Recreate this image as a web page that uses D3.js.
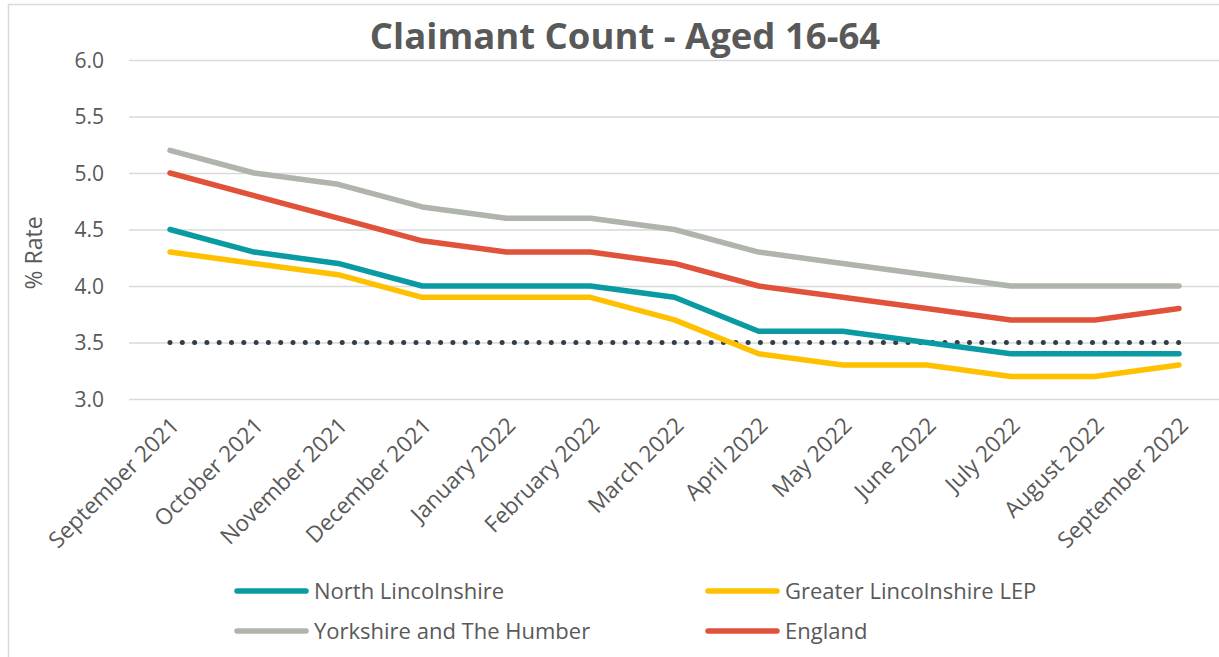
<!DOCTYPE html>
<html>
<head>
<meta charset="utf-8">
<script src="https://cdn.jsdelivr.net/npm/d3@7"></script>
<style>
html,body{margin:0;padding:0;background:#fff;}
svg{display:block;font-family:"Open Sans","Noto Sans",sans-serif;}
</style>
</head>
<body>
<svg id="chart" width="1219" height="657"></svg>
<script>
const months = ["September 2021","October 2021","November 2021","December 2021","January 2022","February 2022","March 2022","April 2022","May 2022","June 2022","July 2022","August 2022","September 2022"];
const northLincolnshire = [4.5,4.3,4.2,4.0,4.0,4.0,3.9,3.6,3.6,3.5,3.4,3.4,3.4];
const greaterLincolnshireLEP = [4.3,4.2,4.1,3.9,3.9,3.9,3.7,3.4,3.3,3.3,3.2,3.2,3.3];
const yorkshireHumber = [5.2,5.0,4.9,4.7,4.6,4.6,4.5,4.3,4.2,4.1,4.0,4.0,4.0];
const england = [5.0,4.8,4.6,4.4,4.3,4.3,4.2,4.0,3.9,3.8,3.7,3.7,3.8];
const benchmark = [3.5,3.5,3.5,3.5,3.5,3.5,3.5,3.5,3.5,3.5,3.5,3.5,3.5];
const yTicks = [3.0,3.5,4.0,4.5,5.0,5.5,6.0];
const seriesNames = ["North Lincolnshire","Greater Lincolnshire LEP","Yorkshire and The Humber","England"];
const seriesColors = ["#0a9aa2","#ffc000","#afb4ad","#e0523a"];

const svg = d3.select("#chart");
const textColor = "#595959";
const ff = "'Open Sans','Noto Sans',sans-serif";

// chart border
svg.append("path").attr("d","M8.5,657 V4.5 H1219").attr("fill","none").attr("stroke","#d9d9d9").attr("stroke-width",1.5);

const x = d3.scalePoint().domain(months).range([170,1179]);
const y = d3.scaleLinear().domain([3,6]).range([399,60]);

// gridlines
const yAxis = d3.axisLeft(y).tickValues(yTicks).tickFormat(d3.format(".1f")).tickSize(-1090).tickPadding(25);
const gy = svg.append("g").attr("transform","translate(129,0)").call(yAxis);
gy.attr("font-size",null).attr("font-family",null);
gy.select(".domain").remove();
gy.selectAll(".tick line").attr("stroke","#d9d9d9").attr("stroke-width",1.5);
gy.selectAll(".tick text").attr("fill",textColor).style("font-size","21px").style("font-family",ff).attr("dy","0.34em");

// x axis labels
const xAxis = d3.axisBottom(x).tickSize(0).tickPadding(0);
const gx = svg.append("g").attr("transform","translate(0,399)").call(xAxis);
gx.attr("font-size",null).attr("font-family",null);
gx.select(".domain").remove();
gx.selectAll(".tick text")
  .attr("fill",textColor).style("font-size","22.5px").style("font-family",ff)
  .attr("text-anchor","end").attr("dy","0").attr("y",0)
  .attr("transform","translate(10,28) rotate(-45)");

// title
svg.append("text").attr("x",625).attr("y",49).attr("text-anchor","middle")
  .attr("fill",textColor).style("font-size","36.5px").style("font-weight","bold").text("Claimant Count - Aged 16-64");

// y axis title
svg.append("text").attr("transform","translate(42,253) rotate(-90)").attr("text-anchor","middle")
  .attr("fill",textColor).style("font-size","23px").text("% Rate");

const line = d3.line().x((d,i)=>x(months[i])).y(d=>y(d));

// benchmark dotted
svg.append("path").attr("d",line(benchmark)).attr("fill","none").attr("stroke","#313d48")
  .attr("stroke-width",5).attr("stroke-linecap","round").attr("stroke-dasharray","0 12.3");

const allSeries = [northLincolnshire,greaterLincolnshireLEP,yorkshireHumber,england];
const drawOrder = [2,3,0,1];
drawOrder.forEach(k=>{
  svg.append("path").attr("d",line(allSeries[k])).attr("fill","none").attr("stroke",seriesColors[k])
    .attr("stroke-width",5.5).attr("stroke-linejoin","round").attr("stroke-linecap","round");
});

// legend
const legPos = [[237,591],[708,591],[237,631],[708,631]];
seriesNames.forEach((n,i)=>{
  const [lx,ly] = legPos[i];
  svg.append("line").attr("x1",lx).attr("x2",lx+69).attr("y1",ly).attr("y2",ly)
    .attr("stroke",seriesColors[i]).attr("stroke-width",5.5).attr("stroke-linecap","round");
  svg.append("text").attr("x",lx+77).attr("y",ly+7.5).attr("fill",textColor).style("font-size","22px").text(n);
});
</script>
</body>
</html>
